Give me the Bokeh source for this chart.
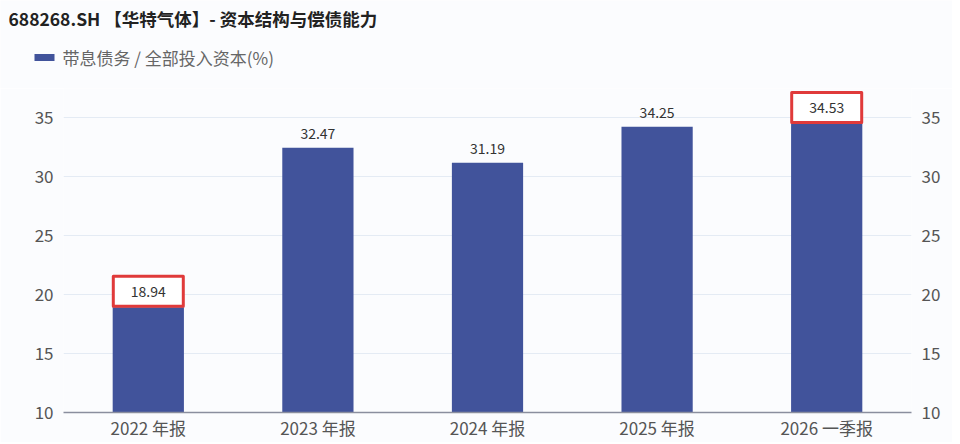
from bokeh.core.properties import value
from bokeh.embed import file_html
from bokeh.layouts import column
from bokeh.models import ColumnDataSource, FactorRange, LinearAxis, Range1d
from bokeh.plotting import figure
from bokeh.resources import INLINE
from bokeh.transform import dodge

periods = ["2022 年报", "2023 年报", "2024 年报", "2025 年报", "2026 一季报"]
ratio = [18.94, 32.47, 31.19, 34.25, 34.53]
highlight = [True, False, False, False, True]
yticks = [10, 15, 20, 25, 30, 35]

title_text = "688268.SH 【华特气体】- 资本结构与偿债能力"
legend_text = "带息债务 / 全部投入资本(%)"

FONT = "Noto Sans CJK SC"
BAR = "#41539b"
BG = "#fbfcfe"


def subset(flag):
    keep = [h == flag for h in highlight]
    return ColumnDataSource(data=dict(
        period=[p for p, k in zip(periods, keep) if k],
        ratio=[v for v, k in zip(ratio, keep) if k],
        label=[f"{v:.2f}" for v, k in zip(ratio, keep) if k],
    ))


src = ColumnDataSource(data=dict(period=periods, ratio=ratio))
hl = subset(True)
plain = subset(False)

# header strip: title + legend, drawn in pixel coordinates
head = figure(
    width=952, height=88,
    x_range=Range1d(0, 952), y_range=Range1d(88, 0),
    x_axis_location=None, y_axis_location=None,
    output_backend="svg", toolbar_location=None, tools="",
    min_border=0, outline_line_color=None,
    background_fill_color=BG, border_fill_color=BG,
)
head.frame_align = False
head.grid.visible = False
head.text(x=[8], y=[18], text=[title_text], text_font=value(FONT),
          text_font_size="17.5px", text_font_style="bold", text_color="#222222",
          text_baseline="middle")
head.quad(left=[34], right=[54], top=[53.5], bottom=[60.5],
          fill_color=BAR, line_color=None)
head.text(x=[62], y=[57], text=[legend_text], text_font=value(FONT),
          text_font_size="17px", text_color="#666666", text_baseline="middle")

p = figure(
    width=952, height=354,
    x_range=FactorRange(*periods, range_padding=0),
    y_range=Range1d(10, 37.5),
    output_backend="svg", toolbar_location=None, tools="",
    min_border_left=63, min_border_right=41,
    min_border_top=0, min_border_bottom=30,
    background_fill_color=BG, border_fill_color=BG,
    outline_line_color=None,
)
p.frame_align = False

p.vbar(x="period", top="ratio", bottom=10, width=0.42, source=src,
       fill_color=BAR, line_color=None)

p.text(x="period", y=dodge("ratio", 1.2), text="label", source=plain,
       text_font=value(FONT), text_font_size="14px", text_color="#333333",
       text_align="center", text_baseline="middle")
p.rect(x="period", y=dodge("ratio", 1.36), width=70, height=30,
       width_units="screen", height_units="screen", source=hl,
       fill_color="white", line_color="#e03a3a", line_width=3,
       line_join="round")
p.text(x="period", y=dodge("ratio", 1.36), text="label", source=hl,
       text_font=value(FONT), text_font_size="14px", text_color="#333333",
       text_align="center", text_baseline="middle")

right = LinearAxis()
p.add_layout(right, "right")
for ax in (p.yaxis[0], right):
    ax.ticker = yticks
    ax.axis_line_color = None
    ax.major_tick_line_color = None
    ax.minor_tick_line_color = None
    ax.major_tick_out = 0
    ax.major_label_text_font = FONT
    ax.major_label_text_font_size = "17px"
    ax.major_label_text_color = "#555555"
    ax.major_label_standoff = 10

p.xaxis.axis_line_color = "#8a8e9e"
p.xaxis.axis_line_width = 1.5
p.xaxis.major_tick_line_color = None
p.xaxis.major_tick_out = 0
p.xaxis.major_tick_in = 0
p.xaxis.major_label_text_font = FONT
p.xaxis.major_label_text_font_size = "17px"
p.xaxis.major_label_text_color = "#555555"
p.xaxis.major_label_standoff = 2

p.xgrid.grid_line_color = None
p.ygrid.grid_line_color = "#e4ebf4"

page = column(head, p, spacing=0)
open("out.html", "w").write(file_html(page, INLINE))
